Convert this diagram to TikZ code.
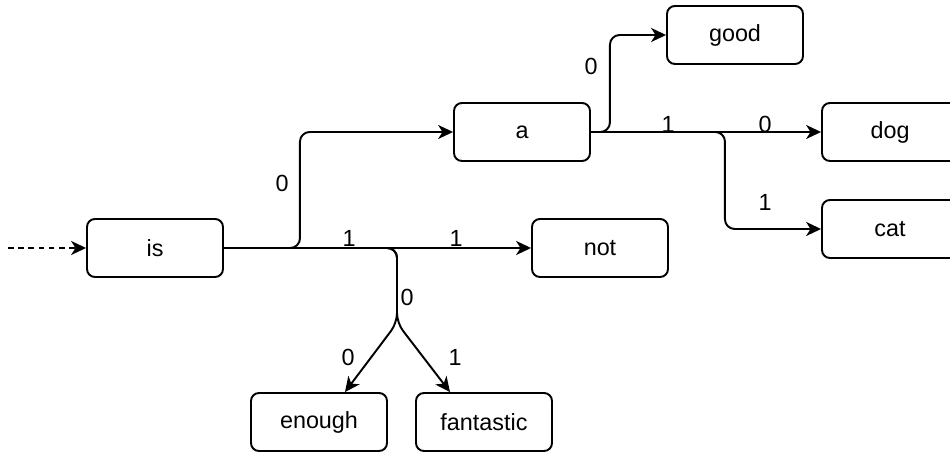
\documentclass[tikz,border=0pt]{standalone}
\usepackage{fontspec}
\setmainfont{Liberation Sans}
\usetikzlibrary{arrows.meta}

\begin{document}
\begin{tikzpicture}[x=0.02cm,y=0.02cm,
 font=\fontsize{13.3}{15}\selectfont,
 word/.style={draw,line width=1.1pt,rounded corners=4.5pt,minimum width=2.72cm,minimum height=1.16cm,inner sep=0pt},
 edge/.style={line width=1.1pt,rounded corners=5.5pt,-{Stealth[length=8.5pt,width=8pt,inset=2.5pt]}},
 bit/.style={inner sep=1pt}]
 \useasboundingbox (0,0) rectangle (950,452);
 \clip (0,0) rectangle (950,452);
 % words
 \node[word] (is) at (155,204) {is};
 \node[word] (a) at (522,320) {a};
 \node[word] (good) at (735,417) {good};
 \node[word] (dog) at (890,320) {dog};
 \node[word] (cat) at (890,223) {cat};
 \node[word] (not) at (600,204) {not};
 \node[word] (enough) at (319,30) {enough};
 \node[word] (fantastic) at (484,30) {fantastic};
 \coordinate (start) at (8,204);
 % edges
 \draw[edge,dash pattern=on 3.2pt off 2.6pt] (start) -- (is);
 \draw[edge] (is.east) -- ++(76,0) |- (a.west);
 \draw[edge] (is.east) -- (not.west);
 \draw[edge] (is.east) -- (397,204) -- (397,129) -- ([xshift=0.52cm]enough.north);
 \draw[edge] (is.east) -- (397,204) -- (397,129) -- ([xshift=-0.68cm]fantastic.north);
 \draw[edge] (a.east) -- ++(19,0) |- (good.west);
 \draw[edge] (a.east) -- (dog.west);
 \draw[edge] (a.east) -- ++(134,0) |- (cat.west);
 % bits
 \node[bit] (b1) at (282,269) {0};
 \node[bit] (b2) at (349,214) {1};
 \node[bit] (b3) at (456,214) {1};
 \node[bit] (b4) at (407,155) {0};
 \node[bit] (b5) at (348,95) {0};
 \node[bit] (b6) at (455,95) {1};
 \node[bit] (b7) at (591,386) {0};
 \node[bit] (b8) at (668,328) {1};
 \node[bit] (b9) at (765,328) {0};
 \node[bit] (b10) at (765,250) {1};
\end{tikzpicture}
\end{document}
